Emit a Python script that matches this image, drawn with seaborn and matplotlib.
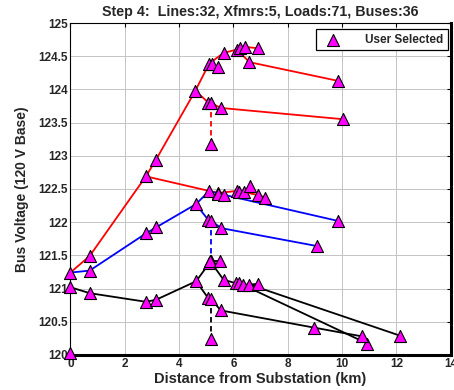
import matplotlib
matplotlib.use('Agg')
import pandas as pd
import matplotlib.pyplot as plt
import seaborn as sns

# ---- values (km from substation, bus voltage on 120 V base) ----
# phase A (red)
red_main_km = [0, 0.71, 2.78, 3.15, 4.60, 5.11, 5.64, 6.13, 6.25, 6.43, 6.90]
red_main_v = [121.24, 121.49, 122.69, 122.94, 123.98, 124.39, 124.55, 124.60, 124.62, 124.64, 124.62]
red_lat1_km = [5.11, 5.20, 5.45]
red_lat1_v = [124.39, 124.38, 124.33]
red_lat2_km = [6.13, 6.59, 9.83]
red_lat2_v = [124.60, 124.41, 124.13]
red_lat3_km = [4.60, 5.08, 5.18, 5.55, 10.05]
red_lat3_v = [123.98, 123.80, 123.79, 123.72, 123.55]
red_lat4_km = [2.78, 5.11, 5.45, 6.13, 6.22, 6.40, 6.89, 7.17]
red_lat4_v = [122.69, 122.47, 122.44, 122.47, 122.46, 122.45, 122.41, 122.37]
red_lat5_km = [6.40, 6.62]
red_lat5_v = [122.45, 122.55]
red_xfmr_km = [5.18, 5.18]
red_xfmr_v = [123.79, 123.18]

# phase B (blue)
blue_reg_km = [0, 0]
blue_reg_v = [120.03, 121.24]
blue_main_km = [0, 0.71, 2.78, 3.15, 4.62, 5.11, 5.45, 5.67, 9.83]
blue_main_v = [121.24, 121.27, 121.83, 121.92, 122.27, 122.47, 122.43, 122.41, 122.02]
blue_lat1_km = [4.62, 5.08, 5.18, 5.55, 9.07]
blue_lat1_v = [122.27, 122.03, 122.02, 121.91, 121.64]
blue_xfmr_km = [5.18, 5.18]
blue_xfmr_v = [122.02, 121.42]

# phase C (black)
black_main_km = [0, 0.71, 2.78, 3.15, 4.63, 5.11, 5.15, 5.64, 6.10, 6.22, 6.37, 6.59, 6.90]
black_main_v = [121.02, 120.93, 120.80, 120.83, 121.11, 121.38, 121.41, 121.13, 121.08, 121.08, 121.06, 121.06, 121.07]
black_lat1_km = [5.15, 5.49]
black_lat1_v = [121.41, 121.41]
black_lat2_km = [6.59, 12.13]
black_lat2_v = [121.06, 120.29]
black_lat3_km = [6.22, 10.93]
black_lat3_v = [121.08, 120.17]
black_lat4_km = [4.63, 5.08, 5.17, 5.54, 8.98, 10.72]
black_lat4_v = [121.11, 120.85, 120.84, 120.67, 120.41, 120.28]
black_xfmr_km = [5.17, 5.17]
black_xfmr_v = [120.84, 120.24]

paths = [
    ('A', 'solid', red_main_km, red_main_v),
    ('A', 'solid', red_lat1_km, red_lat1_v),
    ('A', 'solid', red_lat2_km, red_lat2_v),
    ('A', 'solid', red_lat3_km, red_lat3_v),
    ('A', 'solid', red_lat4_km, red_lat4_v),
    ('A', 'solid', red_lat5_km, red_lat5_v),
    ('A', 'dash', red_xfmr_km, red_xfmr_v),
    ('B', 'solid', blue_reg_km, blue_reg_v),
    ('B', 'solid', blue_main_km, blue_main_v),
    ('B', 'solid', blue_lat1_km, blue_lat1_v),
    ('B', 'dash', blue_xfmr_km, blue_xfmr_v),
    ('C', 'solid', black_main_km, black_main_v),
    ('C', 'solid', black_lat1_km, black_lat1_v),
    ('C', 'solid', black_lat2_km, black_lat2_v),
    ('C', 'solid', black_lat3_km, black_lat3_v),
    ('C', 'solid', black_lat4_km, black_lat4_v),
    ('C', 'dash', black_xfmr_km, black_xfmr_v),
]

rows = []
for i, (ph, ls, km, v) in enumerate(paths):
    for x, y in zip(km, v):
        rows.append({'seg': i, 'phase': ph, 'ls': ls, 'km': x, 'volt': y})
df = pd.DataFrame(rows)

phase_colors = {'A': '#FF0000', 'B': '#0000FF', 'C': '#000000'}

sns.set_style('whitegrid')
plt.rcParams['font.family'] = ['Liberation Sans', 'DejaVu Sans']
plt.rcParams['font.weight'] = 'bold'

fig = plt.figure(figsize=(4.54, 3.9), dpi=100)
ax = fig.add_axes([0.155, 0.09, 0.838, 0.851])

sns.lineplot(data=df[df.ls == 'solid'], x='km', y='volt', hue='phase', units='seg',
             estimator=None, sort=False, palette=phase_colors, legend=False,
             linewidth=1.3, ax=ax)
sns.lineplot(data=df[df.ls == 'dash'], x='km', y='volt', hue='phase', units='seg',
             estimator=None, sort=False, palette=phase_colors, legend=False,
             linewidth=1.3, linestyle=(0, (3, 2)), ax=ax)

pts = df[['km', 'volt']].drop_duplicates()
sns.scatterplot(data=pts, x='km', y='volt', marker='^', s=75, color='#FF00FF',
                edgecolor='black', linewidth=0.8, label='User Selected', zorder=5,
                clip_on=False, ax=ax)

ax.set_xlim(0, 14)
ax.set_ylim(120, 125)
ax.set_xticks(range(0, 15, 2))
ax.set_yticks([120 + 0.5 * k for k in range(11)])
ax.set_yticklabels(['120', '120.5', '121', '121.5', '122', '122.5', '123',
                    '123.5', '124', '124.5', '125'])
ax.tick_params(direction='in', length=3, top=True, right=True, labelsize=8.5,
               pad=2, color='black')
for lab in ax.get_xticklabels() + ax.get_yticklabels():
    lab.set_fontweight('bold')

ax.grid(True, color='#c4c4c4', linewidth=0.7)
for side in ['left', 'top']:
    ax.spines[side].set_color('black')
    ax.spines[side].set_linewidth(0.8)
for side in ['right', 'bottom']:
    ax.spines[side].set_color('black')
    ax.spines[side].set_linewidth(2.2)

ax.set_title('Step 4:  Lines:32, Xfmrs:5, Loads:71, Buses:36', fontsize=10.3,
             fontweight='bold', pad=5)
ax.set_xlabel('Distance from Substation (km)', fontsize=10.5, fontweight='bold', labelpad=2)
ax.set_ylabel('Bus Voltage (120 V Base)', fontsize=10, fontweight='bold')
ax.yaxis.set_label_coords(-0.11, 0.5)

leg = ax.legend(loc='upper right', bbox_to_anchor=(0.993, 0.982), borderaxespad=0,
                frameon=True, fancybox=False, framealpha=1, edgecolor='black',
                prop={'size': 8.5, 'weight': 'bold'}, handletextpad=1.6,
                borderpad=0.4, handlelength=2.2)
leg.get_frame().set_linewidth(0.9)

fig.savefig('out.png', dpi=100)
